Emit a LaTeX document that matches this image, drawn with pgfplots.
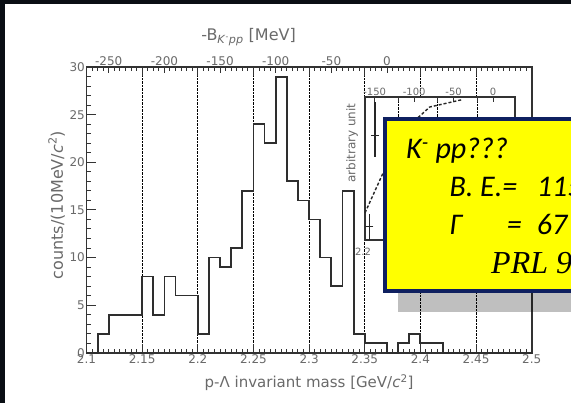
\documentclass[border=0pt]{standalone}
\usepackage{pgfplots}
\pgfplotsset{compat=1.18}
\usepackage{fontspec}
\setmainfont{DejaVu Sans}
\newfontfamily\calib{Carlito}
\newfontfamily\timesit{Liberation Serif}
\definecolor{lbl}{HTML}{6A6A6A}
\definecolor{frm}{HTML}{333333}
\definecolor{boxyellow}{HTML}{FFFF00}
\definecolor{navy}{HTML}{0F2060}
\definecolor{bgdark}{HTML}{0A0E14}

\begin{document}
\begin{tikzpicture}
\useasboundingbox (0,0) rectangle (571pt,-403pt);
\clip (0,0) rectangle (571pt,-403pt);
\fill[bgdark] (0,0) rectangle (571pt,-403pt);
\fill[white] (5pt,-4pt) rectangle (571pt,-403pt);

% main histogram
\begin{axis}[
    at={(86.5pt,-352.7pt)}, anchor=south west,
    width=445.2pt, height=285.5pt, scale only axis,
    xmin=2.1, xmax=2.5, ymin=0, ymax=30,
    xtick={2.1,2.15,2.2,2.25,2.3,2.35,2.4,2.45,2.5},
    xticklabels={2.1,2.15,2.2,2.25,2.3,2.35,2.4,2.45,2.5},
    ytick={0,5,10,15,20,25,30},
    minor x tick num=9, minor y tick num=4,
    xtick pos=both, xticklabel pos=bottom, ytick pos=left,
    tick align=inside,
    major tick length=9pt, minor tick length=4pt,
    xmajorgrids, grid style={densely dotted, black, line width=0.7pt},
    axis line style={frm, line width=1.8pt},
    every tick/.style={frm, line width=1pt},
    /pgf/number format/assume math mode=true,
    ticklabel style={font=\fontsize{12}{12}\selectfont, text=lbl, inner sep=1.5pt},
    xlabel={p-Λ invariant mass [GeV/\textit{c}\textsuperscript{2}]},
    xlabel style={at={(axis description cs:0.5,0)}, anchor=north, yshift=-22pt,
                  inner sep=0pt, font=\fontsize{15}{15}\selectfont, text=lbl},
    ylabel={counts/(10MeV/\textit{c}\textsuperscript{2})},
    ylabel style={at={(axis description cs:-0.067,0.517)}, anchor=center,
                  font=\fontsize{16}{16}\selectfont, text=lbl},
    clip=false,
]
\addplot[const plot mark left, color=black!82, line width=1.8pt] coordinates {
    (2.10,0) (2.11,2) (2.12,4) (2.13,4) (2.14,4) (2.15,8) (2.16,4) (2.17,8)
    (2.18,6) (2.19,6) (2.20,2) (2.21,10) (2.22,9) (2.23,11) (2.24,17)
    (2.25,24) (2.26,22) (2.27,29) (2.28,18) (2.29,16) (2.30,14) (2.31,10)
    (2.32,7) (2.33,17) (2.34,2) (2.35,1) (2.36,1) (2.37,0) (2.38,1)
    (2.39,2) (2.40,1) (2.41,1) (2.42,0) (2.50,0)
};
\end{axis}

% top scale: -B (MeV)
\begin{axis}[
    at={(86.5pt,-352.7pt)}, anchor=south west,
    width=445.2pt, height=285.5pt, scale only axis,
    xmin=2.1, xmax=2.5, ymin=0, ymax=30,
    axis x line*=top, axis y line=none,
    axis line style={draw=none},
    xtick={2.12,2.17,2.22,2.27,2.32,2.37},
    xticklabels={-250,-200,-150,-100,-50,0},
    tick align=inside, major tick length=6pt,
    every tick/.style={frm, line width=1pt},
    ticklabel style={font=\fontsize{12}{12}\selectfont, text=lbl, inner sep=1.5pt},
    xlabel={-B\textsubscript{\textit{K}\textsuperscript{-}\textit{pp}} [MeV]},
    xlabel style={at={(axis description cs:0.364,1.106)}, anchor=center,
                  font=\fontsize{16}{16}\selectfont, text=lbl},
]
\end{axis}

% inset
\begin{axis}[
    at={(365pt,-240pt)}, anchor=south west,
    width=150pt, height=143pt, scale only axis,
    xmin=2.208, xmax=2.398, ymin=0, ymax=1,
    axis background/.style={fill=white},
    xtick={2.2203,2.2703,2.3203,2.3703},
    xticklabels={-150,-100,-50,0},
    xtick pos=top, xticklabel pos=top,
    extra x ticks={2.25,2.3,2.35}, extra x tick labels={},
    extra x tick style={grid=major, xtick pos=both},
    grid style={densely dotted, black, line width=0.7pt},
    ytick=\empty,
    tick align=inside, major tick length=5pt,
    axis line style={frm, line width=1.6pt},
    every tick/.style={frm, line width=0.8pt},
    ticklabel style={font=\fontsize{10}{10}\selectfont, text=lbl, inner sep=1pt},
    ylabel={arbitrary unit},
    ylabel style={at={(axis description cs:-0.087,0.678)}, anchor=center,
                  font=\fontsize{12}{12}\selectfont, text=lbl},
    clip=false,
]
\addplot[only marks, mark=-, mark size=4pt, color=black!85, line width=1pt,
    error bars/.cd, y dir=both, y explicit,
    error bar style={line width=1.2pt, color=black!85}, error mark=none]
    coordinates {
    (2.2207,0.734) += (0,0.23) -= (0,0.154)
    (2.2134,0.093) +- (0,0.09)
};
\addplot[densely dashed, color=black!85, line width=1.4pt] coordinates {
    (2.208,0.19) (2.231,0.47) (2.26,0.78) (2.29,0.93) (2.33,0.98)
};
\end{axis}
\node[font=\fontsize{10}{10}\selectfont, text=lbl] at (363pt,-252pt) {2.2};

% yellow annotation box with shadow
\fill[black, opacity=0.25] (398pt,-136pt) rectangle (620pt,-311.7pt);
\draw[navy, line width=4pt, fill=boxyellow] (385pt,-119pt) rectangle (620pt,-291.5pt);
\begin{scope}[every node/.style={anchor=base west, inner sep=0pt, text=black}]
\node[font=\calib\itshape\fontsize{30}{30}\selectfont] at (406pt,-158.3pt) {K\textsuperscript{-} pp???};
\node[font=\calib\itshape\fontsize{30}{30}\selectfont] at (449.3pt,-196.7pt) {B. E.=};
\node[font=\calib\itshape\fontsize{30}{30}\selectfont] at (536.7pt,-196.7pt) {115 MeV};
\node[font=\calib\itshape\fontsize{30}{30}\selectfont] at (449.3pt,-234.3pt) {Γ};
\node[font=\calib\itshape\fontsize{30}{30}\selectfont] at (506.7pt,-234.3pt) {=};
\node[font=\calib\itshape\fontsize{30}{30}\selectfont] at (536.7pt,-234.3pt) {67 MeV};
\node[font=\timesit\itshape\fontsize{32}{32}\selectfont] at (491pt,-273.3pt) {PRL 94, 212303};
\end{scope}
\end{tikzpicture}
\end{document}
